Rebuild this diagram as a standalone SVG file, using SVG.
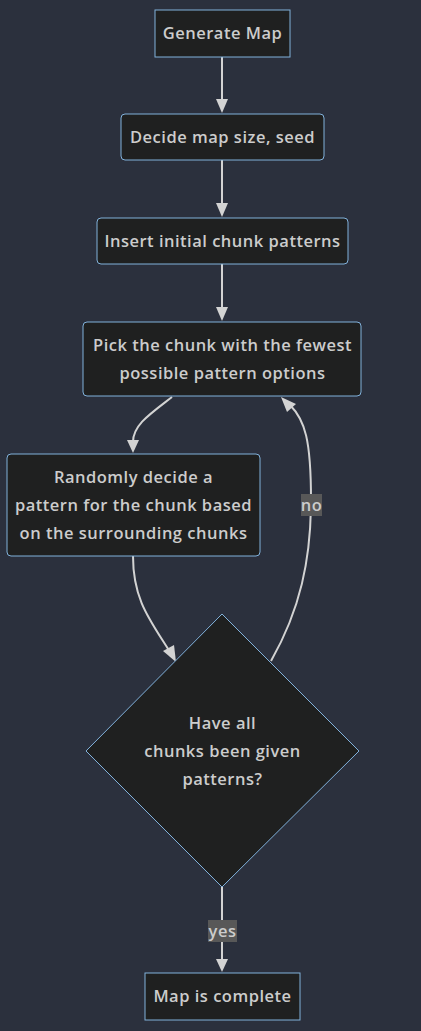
<svg xmlns="http://www.w3.org/2000/svg" width="421" height="1031" viewBox="0 0 421 1031">
<defs>
<style>
.n{fill:#1f2020;stroke:#81b1db;stroke-width:1}
.t{font-family:"Open Sans","Liberation Sans",sans-serif;font-size:16.5px;font-weight:600;letter-spacing:0.5px;fill:#cccccc;text-anchor:middle}
.e{fill:none;stroke:#d3d3d3;stroke-width:2}
.a{fill:#d3d3d3}
.lb{fill:#585858}
.lt{font-family:"Open Sans","Liberation Sans",sans-serif;font-size:16.5px;font-weight:600;letter-spacing:0.5px;fill:#cccccc;text-anchor:middle}
</style>
</defs>
<rect width="421" height="1031" fill="#2b303d"/>
<g id="connectors">
<path class="e" d="M222,57 L222,101"/>
<path class="a" d="M216,99 L228,99 L222,113 z"/>
<path class="e" d="M222,160 L222,205"/>
<path class="a" d="M216,203 L228,203 L222,217 z"/>
<path class="e" d="M222,264 L222,309"/>
<path class="a" d="M216,307 L228,307 L222,321 z"/>
<path class="e" d="M172,397 C150,414 133,425 133,442"/>
<path class="a" d="M127,440 L139,440 L133,453 z"/>
<path class="e" d="M133,556 C133,600 150,620 170,652"/>
<path class="a" d="M163,651 L174,645 L176,662 z"/>
<path class="e" d="M271,661 C300,610 311,560 311,500 C311,440 305,420 290,405"/>
<path class="a" d="M287,412 L296,404 L281,397 z"/>
<path class="e" d="M222,886 L222,960"/>
<path class="a" d="M216,959 L228,959 L222,972 z"/>
<rect class="lb" x="301" y="494" width="21" height="22"/>
<text class="lt" x="311.5" y="511">no</text>
<rect class="lb" x="208" y="920" width="29" height="22"/>
<text class="lt" x="222.5" y="937">yes</text>
</g>
<g id="n1"><rect class="n" x="155" y="10" width="135" height="47"/><text class="t" x="222.5" y="39">Generate Map</text></g>
<g id="n2"><rect class="n" x="121" y="114" width="203" height="46" rx="4"/><text class="t" x="222.5" y="143">Decide map size, seed</text></g>
<g id="n3"><rect class="n" x="97" y="218" width="251" height="46" rx="4"/><text class="t" x="222.5" y="247">Insert initial chunk patterns</text></g>
<g id="n4"><rect class="n" x="83" y="322" width="278" height="74" rx="4"/><text class="t" x="222.5" y="351">Pick the chunk with the fewest</text><text class="t" x="222.5" y="379">possible pattern options</text></g>
<g id="n5"><rect class="n" x="7" y="454" width="253" height="102" rx="4"/><text class="t" x="133.5" y="483">Randomly decide a</text><text class="t" x="133.5" y="511">pattern for the chunk based</text><text class="t" x="133.5" y="539">on the surrounding chunks</text></g>
<g id="n6"><polygon class="n" points="222,614 359,751 222,887 86,751"/><text class="t" x="222.5" y="729">Have all</text><text class="t" x="222.5" y="757">chunks been given</text><text class="t" x="222.5" y="785">patterns?</text></g>
<g id="n7"><rect class="n" x="145" y="973" width="155" height="47"/><text class="t" x="222.5" y="1002">Map is complete</text></g>
</svg>
